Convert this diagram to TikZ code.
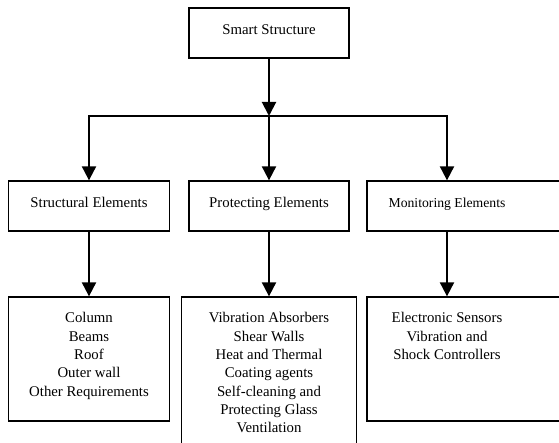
\documentclass[tikz,border=0pt]{standalone}
\usepackage{fontspec}
\setmainfont{Liberation Serif}
\usetikzlibrary{positioning}
\usetikzlibrary{arrows.meta}

\begin{document}
\begin{tikzpicture}[x=1pt,y=-1pt]
\tikzstyle{box}=[rectangle,align=center,draw,line width=0.45mm,fill=white,inner sep=0pt,text height=10pt,text depth=6pt,font=\fontsize{14.8}{18.3}\selectfont]
\tikzstyle{plain}=[align=center,inner sep=0pt,text height=10pt,text depth=6pt,font=\fontsize{13.7}{17}\selectfont]
\tikzstyle{list}=[align=center,inner sep=0pt,anchor=north,font=\fontsize{14.8}{18.3}\selectfont]
\tikzstyle{arrow}=[-{Triangle[width=14pt,length=14pt]},line width=0.7mm]
\useasboundingbox (0,0) rectangle (559,443);
\clip (0,0) rectangle (559,443);
% top
\node[box,minimum width=160pt,minimum height=50pt] at(269, 33) (smart) {Smart Structure};
\coordinate (join) at (269, 116);
% second row
\node[box,minimum width=161pt,minimum height=50pt] at(89, 206) (structural) {Structural Elements};
\node[box,minimum width=160pt,minimum height=50pt] at(269, 206) (protecting) {Protecting Elements};
\node[box,minimum width=200pt,minimum height=50pt] at(467, 206) (monitoring) {};
\node[plain] at(447, 206) (monitoringtext) {Monitoring Elements};
% third row
\node[box,minimum width=161pt,minimum height=124pt] at(89, 359) (members) {};
\node[list] at([yshift=-16pt]members.north) (memberstext) {Column\\
                                                          Beams\\
                                                          Roof\\
                                                          Outer wall\\
                                                          Other Requirements};
\node[box,minimum width=175pt,minimum height=183pt] at(269, 388.5) (devices) {};
\node[list] at([yshift=-16pt]devices.north) (devicestext) {Vibration Absorbers\\
                                                          Shear Walls\\
                                                          Heat and Thermal\\
                                                          Coating agents\\
                                                          Self-cleaning and\\
                                                          Protecting Glass\\
                                                          Ventilation};
\node[box,minimum width=200pt,minimum height=124pt] at(467, 359) (sensors) {};
\node[list] at([yshift=-16pt]monitoringtext |- sensors.north) (sensorstext) {Electronic Sensors\\
                                                          Vibration and\\
                                                          Shock Controllers};
% arrows
\draw[arrow] (smart) -- (join);
\draw[arrow] (join) -| (structural.north);
\draw[arrow] (join) -- (protecting.north);
\draw[arrow] (join) -| (monitoringtext |- monitoring.north);
\draw[arrow] (structural) -- (members);
\draw[arrow] (protecting) -- (devices);
\draw[arrow] (monitoringtext |- monitoring.south) -- (monitoringtext |- sensors.north);
\end{tikzpicture}
\end{document}
